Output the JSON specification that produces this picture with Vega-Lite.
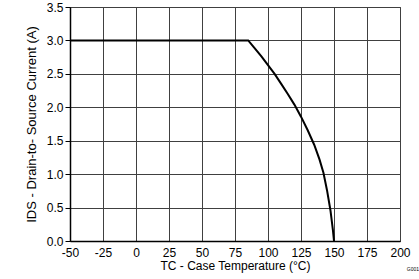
{
  "$schema": "https://vega.github.io/schema/vega-lite/v6.json",
  "autosize": "none",
  "width": 330,
  "height": 234,
  "padding": {"left": 70, "top": 7, "right": 19, "bottom": 38},
  "background": "white",
  "config": {
    "font": "Liberation Sans",
    "view": {"stroke": "#404040", "strokeWidth": 1},
    "axis": {
      "labelFont": "Liberation Sans",
      "titleFont": "Liberation Sans",
      "labelFontSize": 12,
      "titleFontSize": 12,
      "titleFontWeight": "normal",
      "labelColor": "black",
      "titleColor": "black",
      "gridColor": "#404040",
      "gridOpacity": 1,
      "gridWidth": 1,
      "domainColor": "black",
      "domainWidth": 1.5,
      "tickColor": "black",
      "tickSize": 5,
      "labelFlush": false,
      "labelOverlap": false
    }
  },
  "title": {
    "text": "G001",
    "orient": "bottom",
    "anchor": "end",
    "fontSize": 5,
    "fontWeight": "normal",
    "color": "black",
    "offset": -4,
    "dx": 9
  },
  "data": {
    "values": [
      {"t": -50, "i": 3.0},
      {"t": 85, "i": 3.0},
      {"t": 90, "i": 2.88},
      {"t": 95, "i": 2.76},
      {"t": 100, "i": 2.63},
      {"t": 105, "i": 2.5},
      {"t": 110, "i": 2.35},
      {"t": 115, "i": 2.2},
      {"t": 120, "i": 2.04},
      {"t": 125, "i": 1.86},
      {"t": 130, "i": 1.66},
      {"t": 135, "i": 1.44},
      {"t": 139, "i": 1.22},
      {"t": 142, "i": 1.02},
      {"t": 144.7, "i": 0.76},
      {"t": 147.3, "i": 0.46},
      {"t": 149.2, "i": 0.16},
      {"t": 150, "i": 0.0}
    ]
  },
  "mark": {"type": "line", "color": "black", "strokeWidth": 2},
  "encoding": {
    "x": {
      "field": "t",
      "type": "quantitative",
      "scale": {"domain": [-50, 200], "nice": false, "zero": false},
      "axis": {
        "values": [-50, -25, 0, 25, 50, 75, 100, 125, 150, 175, 200],
        "labelExpr": "toString(datum.value)",
        "title": "TC - Case Temperature (°C)",
        "titlePadding": 2,
        "labelPadding": 6,
        "tickSize": 0
      }
    },
    "y": {
      "field": "i",
      "type": "quantitative",
      "scale": {"domain": [0, 3.5], "nice": false},
      "axis": {
        "values": [0, 0.5, 1, 1.5, 2, 2.5, 3, 3.5],
        "format": ".1f",
        "title": "IDS - Drain-to- Source Current (A)",
        "titleFontSize": 13,
        "titlePadding": 8,
        "labelPadding": 2
      }
    }
  }
}
